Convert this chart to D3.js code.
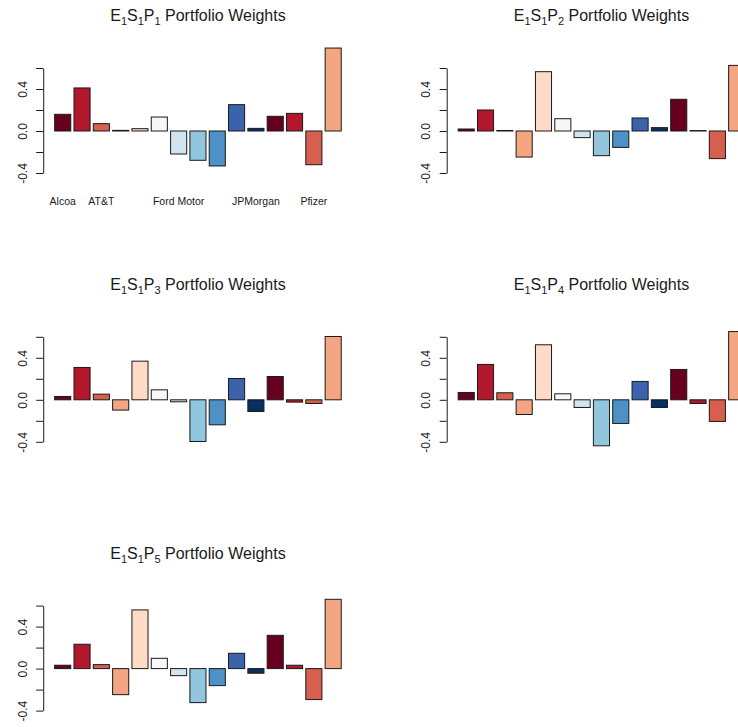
<!DOCTYPE html>
<html>
<head>
<meta charset="utf-8">
<script src="https://cdn.jsdelivr.net/npm/d3@7"></script>
<style>
  body { margin: 0; background: #fff; }
  svg text { font-family: "Liberation Sans", Arial, Helvetica, sans-serif; fill: #1a1a1a; }
</style>
</head>
<body>
<div id="chart"></div>
<script>
//============== data ===============//

// bar names as they appear under the first panel (R drops the ones that would overlap)
const stockLabels = ["Alcoa", "", "AT&T", "", "", "", "Ford Motor", "", "", "", "JPMorgan", "", "", "Pfizer", ""];

// portfolio weights, one array per portfolio
const weightsP1 = [0.159, 0.41, 0.07, 0.006, 0.022, 0.133, -0.219, -0.279, -0.333, 0.251, 0.025, 0.14, 0.168, -0.321, 0.79];
const weightsP2 = [0.019, 0.2, 0.005, -0.248, 0.565, 0.117, -0.063, -0.235, -0.156, 0.124, 0.032, 0.302, 0.004, -0.263, 0.625];
const weightsP3 = [0.032, 0.308, 0.054, -0.098, 0.368, 0.095, -0.019, -0.397, -0.238, 0.203, -0.111, 0.222, -0.022, -0.035, 0.603];
const weightsP4 = [0.07, 0.337, 0.067, -0.14, 0.524, 0.057, -0.073, -0.438, -0.225, 0.175, -0.073, 0.289, -0.035, -0.206, 0.65];
const weightsP5 = [0.032, 0.232, 0.038, -0.248, 0.559, 0.098, -0.067, -0.324, -0.162, 0.146, -0.044, 0.317, 0.032, -0.295, 0.66];

const portfolios = [
  {p: "1", values: weightsP1},
  {p: "2", values: weightsP2},
  {p: "3", values: weightsP3},
  {p: "4", values: weightsP4},
  {p: "5", values: weightsP5}
];

const yTicks = [-0.4, -0.2, 0, 0.2, 0.4, 0.6];
const yTickLabels = ["-0.4", "", "0.0", "", "0.4", ""];

// red-blue diverging palette (11 colours), recycled over the 15 bars
const barColors = ["#67001F", "#B2182B", "#D6604D", "#F4A582", "#FDDBC7", "#F7F7F7",
                   "#D1E5F0", "#92C5DE", "#4D91C6", "#3B62AA", "#053061"];

//============== layout ===============//

// the figure was drawn at 807x807 (2 cols x 3 rows) and cropped to 738x727
const W = 738, H = 727;
const cellW = 403.5, cellH = 268.8;

const svg = d3.select("#chart")
  .append("svg")
    .attr("width", W)
    .attr("height", H);

// R barplot user coords: bars of width 1 with space 0.2, xlim widened by 4%
const x = d3.scaleLinear()
  .domain([-0.512, 18.712])
  .range([43.2, 352.7]);

const y = d3.scaleLinear()
  .domain([-0.4, 0.6])
  .range([173, 68]);

portfolios.forEach(function(d, k) {
  const col = k % 2, row = Math.floor(k / 2);
  const g = svg.append("g")
    .attr("transform", `translate(${col * cellW},${row * cellH})`);

  // title with subscripts: E1 S1 Pk
  const title = g.append("text")
    .attr("x", (x.range()[0] + x.range()[1]) / 2)
    .attr("y", 21)
    .attr("text-anchor", "middle")
    .style("font-size", "16px");
  const parts = [["E", 0], ["1", 4], ["S", -4], ["1", 4], ["P", -4], [d.p, 4], [" Portfolio Weights", -4]];
  parts.forEach(function(pt) {
    title.append("tspan")
      .attr("dy", pt[1])
      .style("font-size", pt[1] > 0 ? "11px" : "16px")
      .text(pt[0]);
  });

  // bars
  g.selectAll("rect")
    .data(d.values)
    .join("rect")
      .attr("x", (v, i) => x(0.2 + 1.2 * i))
      .attr("width", x(1) - x(0))
      .attr("y", v => y(Math.max(0, v)))
      .attr("height", v => Math.abs(y(v) - y(0)))
      .attr("fill", (v, i) => barColors[i % barColors.length])
      .attr("stroke", "#1a1a1a")
      .attr("stroke-width", 1);

  // y axis, labels parallel to the axis
  const ax = g.append("g")
    .attr("transform", `translate(${x.range()[0]},0)`)
    .call(d3.axisLeft(y)
      .tickValues(yTicks)
      .tickSize(7)
      .tickSizeOuter(0)
      .tickFormat((t, i) => yTickLabels[i]));
  ax.select(".domain").attr("stroke", "#1a1a1a");
  ax.selectAll(".tick line").attr("stroke", "#1a1a1a");
  ax.selectAll(".tick text")
    .attr("transform", "rotate(-90)")
    .attr("text-anchor", "middle")
    .attr("x", 0)
    .attr("y", -16.7)
    .attr("dy", 0)
    .attr("fill", "#1a1a1a")
    .style("font-size", "12px")
    .style("font-family", "'Liberation Sans', Arial, sans-serif");

  // bar names only under the first panel
  if (k === 0) {
    g.selectAll(".name")
      .data(stockLabels)
      .join("text")
        .attr("class", "name")
        .attr("x", (s, i) => x(0.7 + 1.2 * i))
        .attr("y", 205)
        .attr("text-anchor", "middle")
        .style("font-size", "10.5px")
        .text(s => s);
  }
});
</script>
</body>
</html>
